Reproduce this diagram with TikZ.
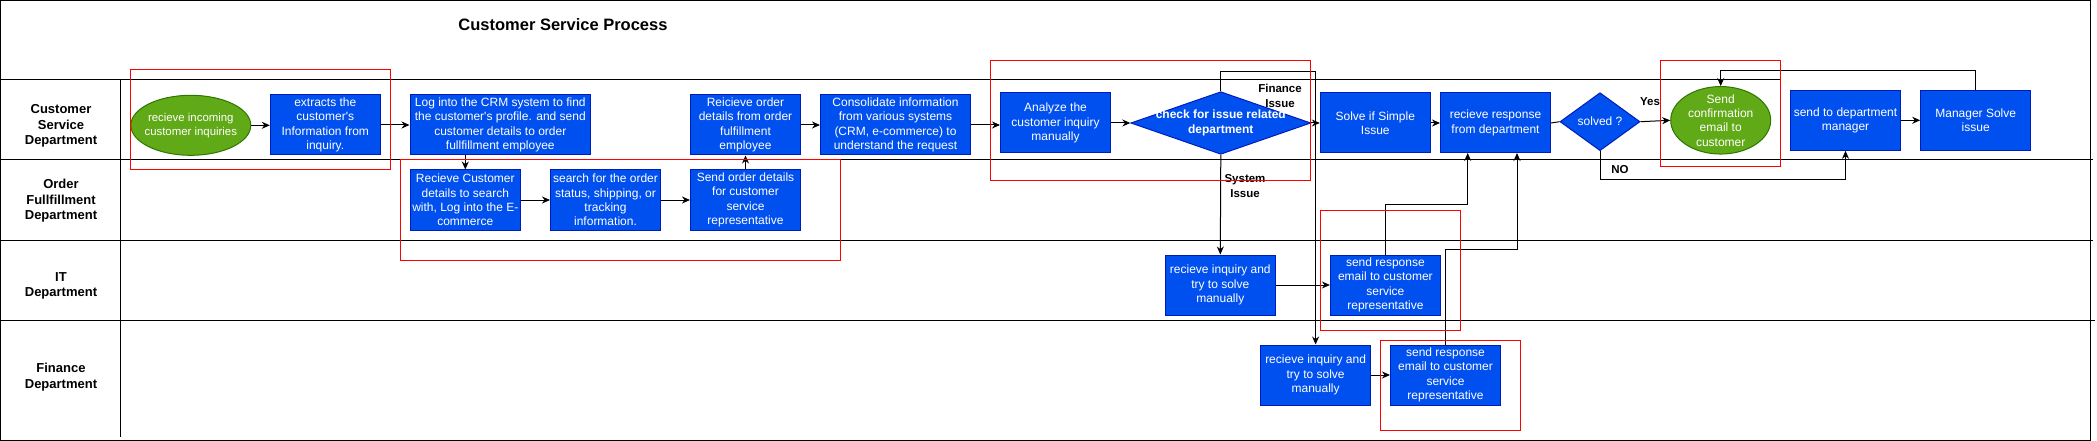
\documentclass[tikz,border=0pt]{standalone}
\usepackage{fontspec}
\setmainfont{Liberation Sans}
\usetikzlibrary{arrows.meta,shapes.geometric}
\definecolor{bfill}{HTML}{0050EF}
\definecolor{bdraw}{HTML}{001DBC}
\definecolor{gfill}{HTML}{60A917}
\definecolor{gdraw}{HTML}{2D7600}
\tikzset{
  proc/.style={rectangle, draw=bdraw, fill=bfill, text=white, line width=1pt, inner sep=0pt,
    minimum height=60pt, minimum width=110pt, align=center, font=\fontsize{12}{14.3}\selectfont},
  ellip/.style={ellipse, draw=gdraw, fill=gfill, line width=1pt, inner sep=0pt},
  dia/.style={diamond, draw=bdraw, fill=bfill, line width=1pt, inner sep=0pt},
  intext/.style={text=white, align=center, inner sep=0pt, font=\fontsize{12}{14.3}\selectfont},
  intextb/.style={text=white, align=center, inner sep=0pt, font=\bfseries\fontsize{12}{14.3}\selectfont},
  lanetxt/.style={font=\bfseries\fontsize{13}{15.5}\selectfont, align=center, inner sep=0pt},
  lbl/.style={font=\bfseries\fontsize{11.5}{14.7}\selectfont, align=center, inner sep=0pt},
  arr/.style={-{Stealth[length=8pt,width=7pt]}, line width=1pt},
  conn/.style={line width=1pt},
  redbox/.style={draw=red, line width=1pt},
  frameline/.style={line width=1pt}
}
\begin{document}
\begin{tikzpicture}[x=1pt,y=-1pt]
\useasboundingbox (0,0) rectangle (2097,441);
% frame and lanes
\draw[frameline] (0.5,0.5) rectangle (2090.7,440);
\draw[frameline] (0,80) -- (1780,80);
\draw[frameline] (0,160) -- (2093,160);
\draw[frameline] (0,240) -- (2093,240);
\draw[frameline] (0,320) -- (2095,320);
\draw[frameline] (120.5,80) -- (120.5,437);
\node[font=\bfseries\fontsize{16.5}{19}\selectfont, inner sep=0pt] (title) at (563,25) {Customer Service Process};
\node[lanetxt] (l1) at (61,126) {Customer\\Service\\Department};
\node[lanetxt] (l2) at (61,201) {Order\\Fullfillment\\Department};
\node[lanetxt] (l3) at (61,286) {IT\\Department};
\node[lanetxt] (l4) at (61,377) {Finance\\Department};
% nodes
\node[ellip, minimum width=120pt, minimum height=60pt,
  label={[text=white, align=center, inner sep=0pt, font=\fontsize{11.4}{14.4}\selectfont]center:recieve incoming\\customer inquiries}] (e1) at (190.8,125.3) {};
\node[proc] (b1) at (325.3,125) {extracts the\\customer\textquotesingle s\\Information from\\inquiry.};
\node[proc, minimum width=180.6pt] (b2) at (500.3,125) {Log into the CRM system to find\\the customer\textquotesingle s profile. and send\\customer details to order\\fullfillment employee};
\node[proc] (b3) at (465.3,200) {Recieve Customer\\details to search\\with, Log into the E-\\commerce};
\node[proc] (b4) at (605.5,200) {search for the order\\status, shipping, or\\tracking\\information.};
\node[proc] (b5) at (745.5,200) {Send order details\\for customer\\service\\representative};
\node[proc] (b6) at (745.5,125) {Reicieve order\\details from order\\fulfillment\\employee};
\node[proc, minimum width=150pt] (b7) at (895.5,125) {Consolidate information\\from various systems\\(CRM, e-commerce) to\\understand the request};
\node[proc] (b8) at (1055.5,123) {Analyze the\\customer inquiry\\manually};
\node[dia, minimum width=180pt, minimum height=62.6pt,
  label={[intextb]center:check for issue related\\department}] (d1) at (1220.8,123) {};
\node[proc] (b9) at (1375.3,123) {Solve if Simple\\Issue};
\node[proc] (b10) at (1495.5,123) {recieve response\\from department};
\node[dia, minimum width=80pt, minimum height=58pt,
  label={[intext]center:solved ?}] (d2) at (1600,121.7) {};
\node[ellip, minimum width=100pt, minimum height=67.5pt,
  label={[intext]center:Send\\confirmation\\email to\\customer}] (c1) at (1720.7,120.3) {};
\node[proc] (b11) at (1845.5,120.3) {send to department\\manager};
\node[proc] (b12) at (1975.7,120.3) {Manager Solve\\issue};
\node[proc] (b13) at (1220.3,285) {recieve inquiry and\\try to solve\\manually};
\node[proc] (b14) at (1385.4,285) {send response\\email to customer\\service\\representative};
\node[proc] (b15) at (1315.6,375) {recieve inquiry and\\try to solve\\manually};
\node[proc] (b16) at (1445.5,375) {send response\\email to customer\\service\\representative};
% labels
\node[lbl] (fin) at (1280,96) {Finance\\Issue};
\node[lbl] (sys) at (1245,186) {System\\Issue};
\node[lbl] (yes) at (1650,101.7) {Yes};
\node[lbl] (no) at (1620,169.3) {NO};
% connectors
\draw[arr] (e1.east) -- (e1.east -| b1.west);
\draw[arr] (b1.east) -- (b1.east -| b2.west);
\draw[arr] (b2.south -| b3.north) -- (b3.north);
\draw[arr] (b3.east) -- (b4.west);
\draw[arr] (b4.east) -- (b5.west);
\draw[arr] (b5.north) -- (b6.south);
\draw[arr] (b6.east) -- (b7.west);
\draw[arr] (b7.east) -- (b7.east -| b8.west);
\draw[arr] (b8.east) -- (d1.west);
\draw[arr] (d1.east) -- (b9.west);
\draw[arr] (b9.east) -- (b10.west);
\draw[conn] (b10.east) -- (d2.west);
\draw[arr] (d2.east) -- (c1.west);
\draw[arr] (b11.east) -- (b12.west);
\draw[arr] (d1.south) -- (b13.north);
\draw[arr] (d1.north) |- (1315.6,71.7) -- (b15.north);
\draw[arr] (b13.east) -- (b14.west);
\draw[arr] (b15.east) -- (b16.west);
\draw[arr] (b14.north) |- (1467.7,204) -- (1467.7,153);
\draw[arr] (b16.north) |- (1517,249.3) -- (1517,153);
\draw[arr] (d2.south) |- (1845.5,179.3) -- (b11.south);
\draw[arr] (b12.north) |- (1720.7,70.3) -- (c1.north);
% red highlight boxes
\draw[redbox] (130,70) rectangle (390.6,170);
\draw[redbox] (400.5,160) rectangle (840.6,260);
\draw[redbox] (990.6,60.3) rectangle (1310.7,180.3);
\draw[redbox] (1320.6,210.3) rectangle (1460.6,330.3);
\draw[redbox] (1660.5,60.3) rectangle (1780.4,166.3);
\draw[redbox] (1380.3,340.3) rectangle (1520.5,430.3);
\end{tikzpicture}
\end{document}
